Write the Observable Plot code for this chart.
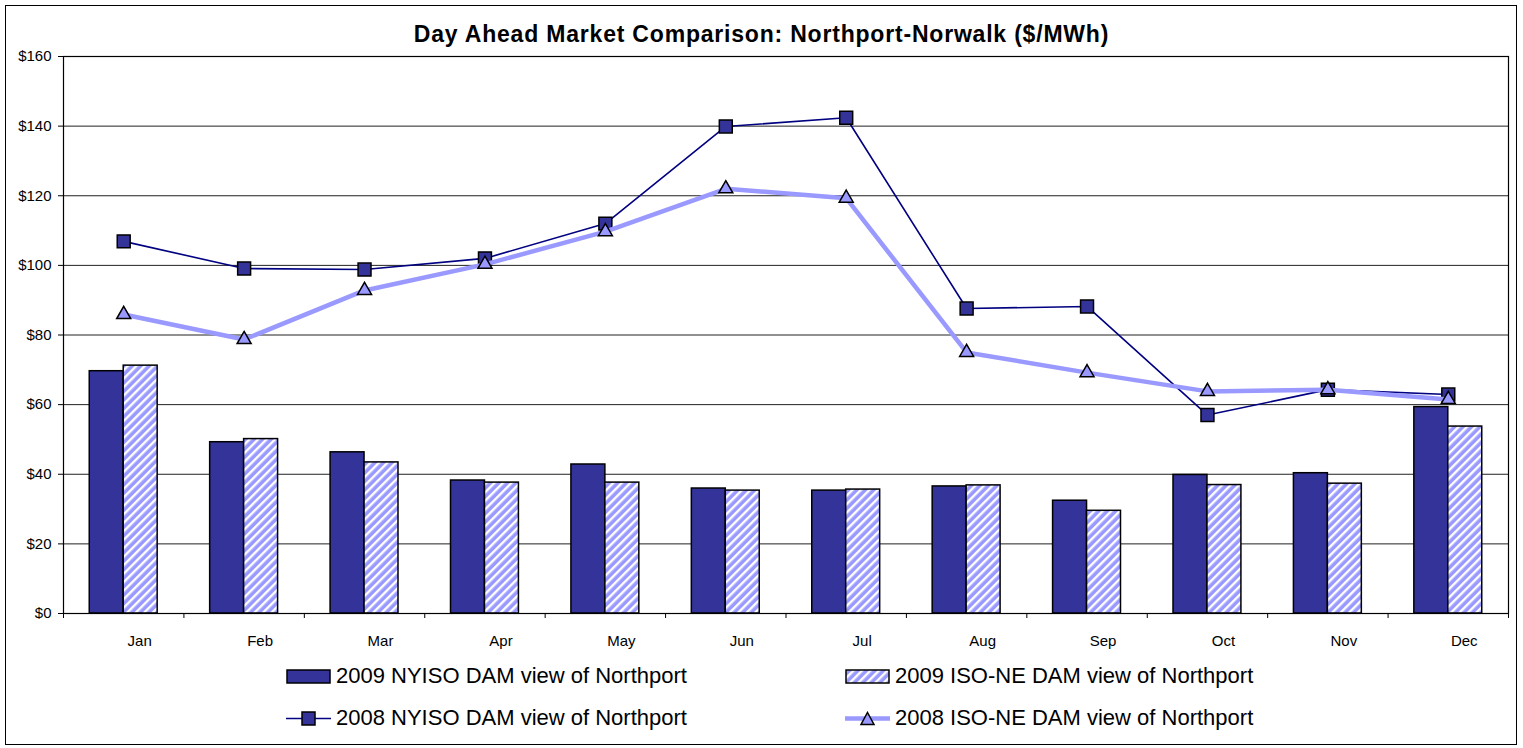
<!DOCTYPE html>
<html>
<head>
<meta charset="utf-8">
<script src="https://cdn.jsdelivr.net/npm/d3@7"></script>
<script src="https://cdn.jsdelivr.net/npm/@observablehq/plot@0.6"></script>
<style>
  html, body { margin: 0; padding: 0; background: #fff; }
  body { font-family: "Liberation Sans", Arial, sans-serif; }
  #wrap { position: relative; width: 1523px; height: 748px; overflow: hidden; }
  #border { position: absolute; left: 5px; top: 5px; width: 1510px; height: 738px; border: 1px solid #000; }
  #title { position: absolute; left: 0; top: 21px; width: 1523px; text-align: center; font-weight: bold; font-size: 23px; letter-spacing: 0.8px; line-height: 26px; }
  #chart { position: absolute; left: 0; top: 0; }
  .leg { position: absolute; display: flex; align-items: center; height: 26px; font-size: 22px; line-height: 26px; white-space: nowrap; }
  .leg svg { margin-right: 4px; }
</style>
</head>
<body>
<div id="wrap">
  <div id="border"></div>
  <div id="chart"></div>
  <div id="title">Day Ahead Market Comparison: Northport-Norwalk ($/MWh)</div>
  <div id="legend"></div>
</div>
<script>
const months = ["Jan", "Feb", "Mar", "Apr", "May", "Jun", "Jul", "Aug", "Sep", "Oct", "Nov", "Dec"];
const nyiso2009 = [69.6, 49.2, 46.3, 38.2, 42.8, 35.9, 35.3, 36.5, 32.4, 39.8, 40.3, 59.3];
const isone2009 = [71.2, 50.1, 43.4, 37.6, 37.6, 35.3, 35.6, 36.8, 29.5, 36.9, 37.3, 53.7];
const nyiso2008 = [106.9, 99.1, 98.8, 102.0, 112.0, 139.9, 142.4, 87.6, 88.2, 57.0, 64.3, 62.9];
const isone2008 = [85.9, 78.7, 92.8, 100.3, 109.7, 122.0, 119.3, 75.0, 69.2, 63.8, 64.3, 61.5];
const yTicks = [0, 20, 40, 60, 80, 100, 120, 140, 160];
const seriesNames = [
  "2009 NYISO DAM view of Northport",
  "2009 ISO-NE DAM view of Northport",
  "2008 NYISO DAM view of Northport",
  "2008 ISO-NE DAM view of Northport"
];

const data = months.map((m, i) => ({i, m, n9: nyiso2009[i], i9: isone2009[i], n8: nyiso2008[i], i8: isone2008[i]}));
const bw = 0.282; // bar width as fraction of a month band

function patternDefs(id) {
  return `<pattern id="${id}" patternUnits="userSpaceOnUse" width="6" height="6" patternTransform="rotate(45)">
    <rect x="0" y="0" width="6" height="6" fill="#9999FF"></rect>
    <rect x="0" y="0" width="2.4" height="6" fill="#FFFFFF"></rect>
  </pattern>`;
}

const defsMark = () => {
  const g = d3.create("svg:defs");
  g.html(patternDefs("isoStripe"));
  return g.node();
};

const chart = Plot.plot({
  width: 1523,
  height: 660,
  marginLeft: 63,
  marginRight: 15,
  marginTop: 56,
  marginBottom: 47,
  x: {type: "linear", domain: [-0.5, 11.5], axis: null},
  y: {domain: [0, 160], axis: null},
  style: {fontFamily: "'Liberation Sans', Arial, sans-serif", fontSize: "15px", color: "#000", background: "transparent", overflow: "visible"},
  marks: [
    defsMark,
    Plot.ruleY(yTicks, {stroke: "#222", strokeWidth: 1}),
    Plot.rect(data, {x1: d => d.i - bw, x2: d => d.i, y1: 0, y2: "n9", fill: "#333399", stroke: "#000", strokeWidth: 1.5}),
    Plot.rect(data, {x1: d => d.i, x2: d => d.i + bw, y1: 0, y2: "i9", fill: "url(#isoStripe)", stroke: "#000", strokeWidth: 1.5}),
    Plot.frame({stroke: "#000", strokeWidth: 1.2}),
    Plot.line(data, {x: "i", y: "n8", stroke: "#000080", strokeWidth: 1.6}),
    Plot.dot(data, {x: "i", y: "n8", symbol: "square", r: 7.3, fill: "#333399", stroke: "#000", strokeWidth: 1.5}),
    Plot.line(data, {x: "i", y: "i8", stroke: "#9999FF", strokeWidth: 4.5}),
    Plot.dot(data, {x: "i", y: "i8", symbol: "triangle", r: 5.2, fill: "#9999FF", stroke: "#000", strokeWidth: 1.5}),
    Plot.axisY({ticks: yTicks, tickFormat: d => `$${d}`, tickSize: 5, tickPadding: 7, label: null, stroke: "#000"}),
    Plot.axisX({ticks: d3.range(-0.5, 12, 1), tickFormat: () => "", tickSize: 5, label: null, stroke: "#000"}),
    Plot.axisX({ticks: d3.range(12), tickFormat: i => months[i], tickSize: 0, tickPadding: 22, dx: 16, label: null})
  ]
});
document.getElementById("chart").appendChild(chart);

// Legend
const legendItems = [
  {name: seriesNames[0], left: 286, top: 663, sw: `<rect x="1" y="1" width="43" height="13" fill="#333399" stroke="#000" stroke-width="1.5"/>`},
  {name: seriesNames[1], left: 845, top: 663, sw: `<defs>${patternDefs("isoStripeLeg")}</defs><rect x="1" y="1" width="43" height="13" fill="url(#isoStripeLeg)" stroke="#000" stroke-width="1.5"/>`},
  {name: seriesNames[2], left: 286, top: 705, sw: `<line x1="0" x2="45" y1="7.5" y2="7.5" stroke="#000080" stroke-width="1.6"/><rect x="16" y="1" width="13" height="13" fill="#333399" stroke="#000" stroke-width="1.5"/>`},
  {name: seriesNames[3], left: 845, top: 705, sw: `<line x1="0" x2="45" y1="7.5" y2="7.5" stroke="#9999FF" stroke-width="4.5"/><path d="M22.5,1.5 L29,13.5 L16,13.5 Z" fill="#9999FF" stroke="#000" stroke-width="1.5"/>`}
];
const legend = document.getElementById("legend");
for (const it of legendItems) {
  const div = document.createElement("div");
  div.className = "leg";
  div.style.left = it.left + "px";
  div.style.top = it.top + "px";
  div.innerHTML = `<svg width="46" height="15" viewBox="0 0 46 15">${it.sw}</svg><span>${it.name}</span>`;
  legend.appendChild(div);
}
</script>
</body>
</html>
